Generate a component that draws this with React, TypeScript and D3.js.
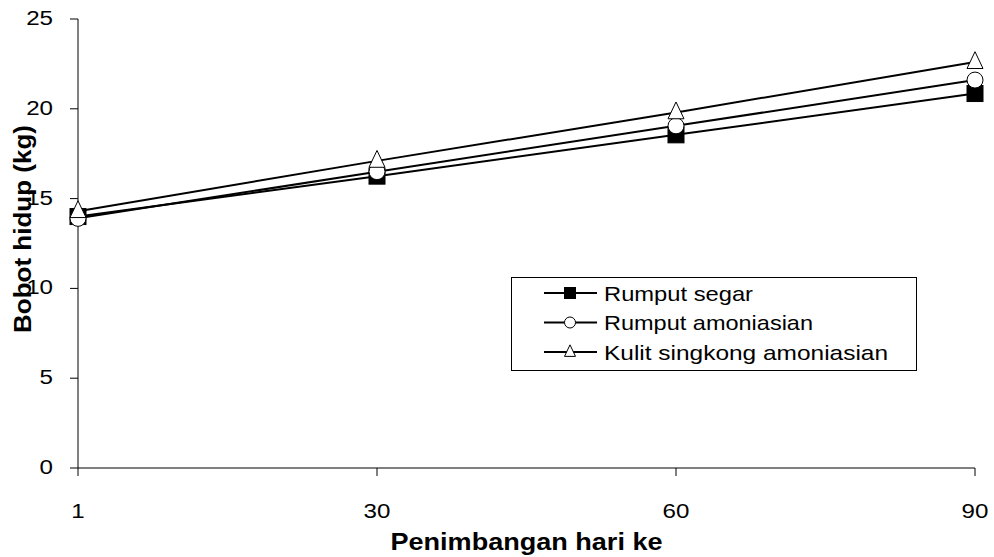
import React from "react";
import * as d3 from "d3";

const days = ["1", "30", "60", "90"];
const rumputSegar = [14.0, 16.25, 18.55, 20.85];
const rumputAmoniasian = [13.9, 16.5, 19.05, 21.6];
const kulitSingkong = [14.3, 17.1, 19.8, 22.6];
const yTicks = [0, 5, 10, 15, 20, 25];
const seriesNames = ["Rumput segar", "Rumput amoniasian", "Kulit singkong amoniasian"];

const W = 994, H = 557;
const L = 78, R = 975, T = 19, B = 468;
const FONT = "Liberation Sans, Arial, sans-serif";

function Marker({ kind, x, y, s }: { kind: string; x: number; y: number; s: number }) {
  if (kind === "square")
    return <rect x={x - s / 2} y={y - s / 2} width={s} height={s} fill="#000" stroke="#000" strokeWidth={1} />;
  if (kind === "circle")
    return <circle cx={x} cy={y} r={s / 2} fill="#fff" stroke="#000" strokeWidth={1} />;
  const h = s * 1.05;
  const p = `M${x},${y - h * 0.62} L${x + s / 2},${y + h * 0.38} L${x - s / 2},${y + h * 0.38} Z`;
  return <path d={p} fill="#fff" stroke="#000" strokeWidth={1} />;
}

export default function App() {
  const x = d3.scalePoint<string>().domain(days).range([L, R]);
  const y = d3.scaleLinear().domain([0, 25]).range([B, T]);
  const line = d3.line<number>().x((_, i) => x(days[i])!).y((d) => y(d));
  const series = [
    { name: seriesNames[0], vals: rumputSegar, kind: "square" },
    { name: seriesNames[1], vals: rumputAmoniasian, kind: "circle" },
    { name: seriesNames[2], vals: kulitSingkong, kind: "triangle" },
  ];
  const legendRows = [293, 322.5, 352];
  const legendLens = [149, 209, 284];
  return (
    <svg width={W} height={H} style={{ position: "absolute", left: 0, top: 0, background: "#fff" }} fontFamily={FONT}>
      <rect x={0} y={0} width={W} height={H} fill="#fff" />
      {/* axes */}
      <line x1={L} y1={T} x2={L} y2={B} stroke="#000" strokeWidth={1} />
      <line x1={L} y1={B} x2={R} y2={B} stroke="#000" strokeWidth={1} />
      {yTicks.map((t) => (
        <g key={t}>
          <line x1={L - 8} x2={L} y1={y(t)} y2={y(t)} stroke="#000" />
          <text transform={`translate(53,${y(t) + 6}) scale(1.15,1)`} textAnchor="end" fontSize={21} fill="#000">
            {t}
          </text>
        </g>
      ))}
      {days.map((d) => (
        <g key={d}>
          <line x1={x(d)!} x2={x(d)!} y1={B} y2={B + 8} stroke="#000" />
          <text transform={`translate(${x(d)!},518) scale(1.15,1)`} textAnchor="middle" fontSize={21} fill="#000">
            {d}
          </text>
        </g>
      ))}
      <text x={(L + R) / 2} y={550} textAnchor="middle" fontSize={23} fontWeight="bold" textLength={272} lengthAdjust="spacingAndGlyphs">
        Penimbangan hari ke
      </text>
      <text transform={`translate(31,229) rotate(-90)`} textAnchor="middle" fontSize={23} fontWeight="bold" textLength={208} lengthAdjust="spacingAndGlyphs">
        Bobot hidup (kg)
      </text>
      {/* series */}
      {series.map((s) => (
        <path key={s.name} d={line(s.vals)!} fill="none" stroke="#000" strokeWidth={2} />
      ))}
      {series.map((s) =>
        s.vals.map((v, i) => <Marker key={s.name + i} kind={s.kind} x={x(days[i])!} y={y(v)} s={16} />)
      )}
      {/* legend */}
      <rect x={511.5} y={277.5} width={405} height={93} fill="#fff" stroke="#000" strokeWidth={1} />
      {series.map((s, i) => (
        <g key={s.name}>
          <line x1={544} x2={597} y1={legendRows[i]} y2={legendRows[i]} stroke="#000" strokeWidth={2} />
          <Marker kind={s.kind} x={570} y={legendRows[i]} s={11} />
          <text x={604} y={legendRows[i] + 7.5} fontSize={21} textLength={legendLens[i]} lengthAdjust="spacingAndGlyphs">
            {s.name}
          </text>
        </g>
      ))}
    </svg>
  );
}
